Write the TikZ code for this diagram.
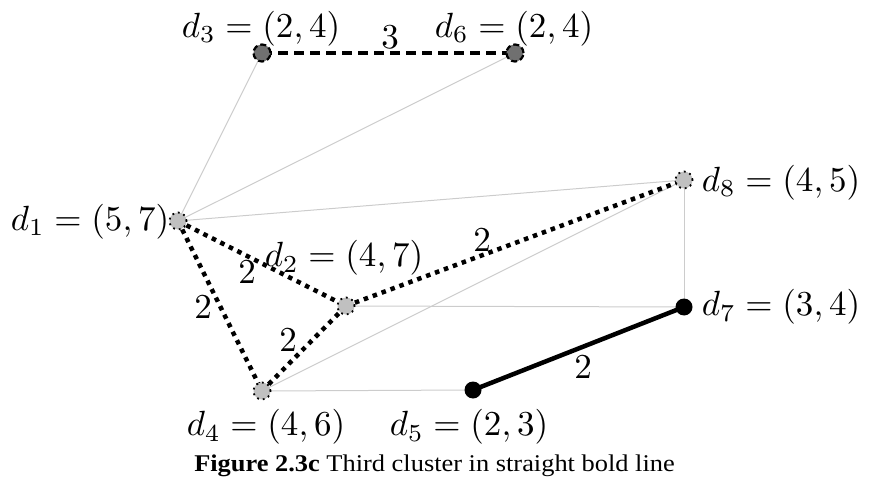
\documentclass[tikz,border=0pt]{standalone}
\usepackage{graphicx}
\usepackage{fontspec}
\newfontfamily\capfont{Liberation Serif}
\definecolor{edgegray}{HTML}{CCCCCC}
\definecolor{lightnode}{HTML}{C0C0C0}
\definecolor{darknode}{HTML}{707070}
\newcommand{\lbmath}[1]{\scalebox{3.5}{$#1$}}
\tikzset{
  vtx/.style={circle,minimum size=17pt,inner sep=0pt},
  lightv/.style={vtx,fill=lightnode,draw=black,line width=1.8pt,dash pattern=on 1.8pt off 4pt},
  darkv/.style={vtx,fill=darknode,draw=black,line width=2.2pt,dash pattern=on 6pt off 3pt},
  blackv/.style={vtx,fill=black},
  grayedge/.style={draw=edgegray,line width=1pt},
  dotedge/.style={draw=black,line width=4.5pt,dash pattern=on 4.5pt off 5pt},
  dashedge/.style={draw=black,line width=4.5pt,dash pattern=on 10pt off 6pt},
  boldedge/.style={draw=black,line width=4.5pt},
  lab/.style={inner sep=0pt},
  elab/.style={inner sep=0pt}
}
\begin{document}
\begin{tikzpicture}[x=1pt,y=-1pt]
\useasboundingbox (0,0) rectangle (869,481);
% positions
\coordinate (p1) at (178,221);
\coordinate (p2) at (346,306);
\coordinate (p3) at (262,53);
\coordinate (p4) at (262,391);
\coordinate (p5) at (473,390);
\coordinate (p6) at (515,53);
\coordinate (p7) at (684,307);
\coordinate (p8) at (684,180);
% gray edges
\draw[grayedge] (p1) -- (p3);
\draw[grayedge] (p1) -- (p6);
\draw[grayedge] (p1) -- (p8);
\draw[grayedge] (p8) -- (p7);
\draw[grayedge] (p2) -- (p7);
\draw[grayedge] (p4) -- (p8);
\draw[grayedge] (p4) -- (p5);
% cluster edges
\draw[dotedge] (p1) -- (p2);
\draw[dotedge] (p1) -- (p4);
\draw[dotedge] (p4) -- (p2);
\draw[dotedge] (p2) -- (p8);
\draw[dashedge] (p3) -- (p6);
\draw[boldedge] (p5) -- (p7);
% vertices
\node[lightv] (d1) at (p1) {};
\node[lightv] (d2) at (p2) {};
\node[darkv] (d3) at (p3) {};
\node[lightv] (d4) at (p4) {};
\node[blackv] (d5) at (p5) {};
\node[darkv] (d6) at (p6) {};
\node[blackv] (d7) at (p7) {};
\node[lightv] (d8) at (p8) {};
% vertex labels
\node[lab] (l1) at (90,222) {\lbmath{d_1 = (5,7)}};
\node[lab] (l2) at (344,258) {\lbmath{d_2 = (4,7)}};
\node[lab] (l3) at (261,29) {\lbmath{d_3 = (2,4)}};
\node[lab] (l4) at (266,427) {\lbmath{d_4 = (4,6)}};
\node[lab] (l5) at (469,427) {\lbmath{d_5 = (2,3)}};
\node[lab] (l6) at (514,29) {\lbmath{d_6 = (2,4)}};
\node[lab] (l7) at (781,307) {\lbmath{d_7 = (3,4)}};
\node[lab] (l8) at (781,183) {\lbmath{d_8 = (4,5)}};
% edge labels
\node[elab] (e36) at (390,37) {\lbmath{3}};
\node[elab] (e12) at (247,272) {\lbmath{2}};
\node[elab] (e14) at (203,307) {\lbmath{2}};
\node[elab] (e42) at (288,340) {\lbmath{2}};
\node[elab] (e28) at (482,240) {\lbmath{2}};
\node[elab] (e57) at (583,367) {\lbmath{2}};
% caption
\node[inner sep=0pt,anchor=base] (cap) at (434.5,471) {\scalebox{1.1}[1]{\capfont\fontsize{24}{28}\selectfont\textbf{Figure 2.3c} Third cluster in straight bold line}};
\end{tikzpicture}
\end{document}
